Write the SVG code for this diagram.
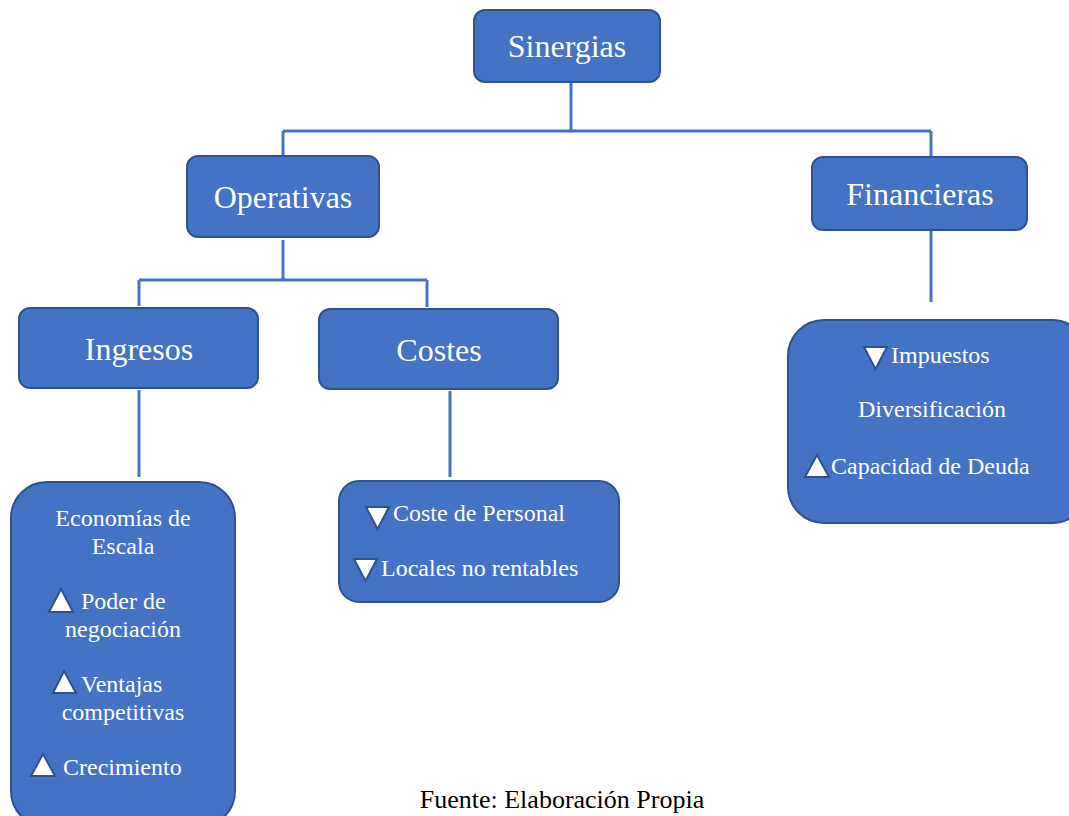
<svg xmlns="http://www.w3.org/2000/svg" width="1069" height="816" viewBox="0 0 1069 816">
<style>
.box{fill:#4472C4;stroke:#2F528F;stroke-width:2}
.big{font-family:'Liberation Serif','DejaVu Serif',serif;font-size:32px;fill:#ffffff;text-anchor:middle}
.sm{font-family:'Liberation Serif','DejaVu Serif',serif;font-size:24px;fill:#ffffff}
.mid{text-anchor:middle}
.tri{fill:#ffffff;stroke:#2F528F;stroke-width:2;stroke-linejoin:miter}
.ln{fill:none;stroke:#4472C4;stroke-width:3}
.src{font-family:'Liberation Serif','DejaVu Serif',serif;font-size:26px;fill:#000000;text-anchor:middle}
</style>
<rect width="1069" height="816" fill="#ffffff"/>
<g id="connectors">
<path class="ln" d="M571 82 V131 M283 131 H931 M283 131 V156 M931 131 V157"/>
<path class="ln" d="M283 240 V280 M139 280 H427 M139 280 V306 M427 280 V307"/>
<path class="ln" d="M139 390 V477"/>
<path class="ln" d="M450 391 V477"/>
<path class="ln" d="M931 231 V302"/>
</g>
<g id="sinergias">
<rect class="box" x="474" y="10" width="186" height="72" rx="11"/>
<text class="big" x="567" y="57">Sinergias</text>
</g>
<g id="operativas">
<rect class="box" x="187" y="156" width="192" height="81" rx="11"/>
<text class="big" x="283" y="208">Operativas</text>
</g>
<g id="financieras">
<rect class="box" x="812" y="157" width="215" height="73" rx="11"/>
<text class="big" x="920" y="205">Financieras</text>
</g>
<g id="ingresos">
<rect class="box" x="19" y="308" width="239" height="80" rx="11"/>
<text class="big" x="139" y="360">Ingresos</text>
</g>
<g id="costes">
<rect class="box" x="319" y="309" width="239" height="80" rx="11"/>
<text class="big" x="439" y="361">Costes</text>
</g>
<g id="economias">
<rect class="box" x="11" y="482" width="224" height="345" rx="36"/>
<text class="sm mid" x="123" y="526">Economías de</text>
<text class="sm mid" x="123" y="554">Escala</text>
<polygon class="tri" points="61,589 49,612 73,612"/>
<text class="sm" x="81" y="609">Poder de</text>
<text class="sm mid" x="123" y="637">negociación</text>
<polygon class="tri" points="64,671 53,693 76,693"/>
<text class="sm" x="81" y="692">Ventajas</text>
<text class="sm mid" x="123" y="720">competitivas</text>
<polygon class="tri" points="43,754 31,776 55,776"/>
<text class="sm" x="63" y="775">Crecimiento</text>
</g>
<g id="costes-detalle">
<rect class="box" x="339" y="481" width="280" height="121" rx="20"/>
<polygon class="tri" points="366,507 389,507 377.5,529"/>
<text class="sm" x="393" y="521">Coste de Personal</text>
<polygon class="tri" points="354,559 377,559 365.5,581"/>
<text class="sm" x="381" y="576">Locales no rentables</text>
</g>
<g id="financieras-detalle">
<rect class="box" x="788" y="320" width="300" height="203" rx="36"/>
<polygon class="tri" points="864,347 887,347 875.5,369"/>
<text class="sm" x="891" y="363">Impuestos</text>
<text class="sm mid" x="932" y="417">Diversificación</text>
<polygon class="tri" points="817,455 805,477 829,477"/>
<text class="sm" x="831" y="474">Capacidad de Deuda</text>
</g>
<text class="src" x="562" y="808">Fuente: Elaboración Propia</text>
</svg>
